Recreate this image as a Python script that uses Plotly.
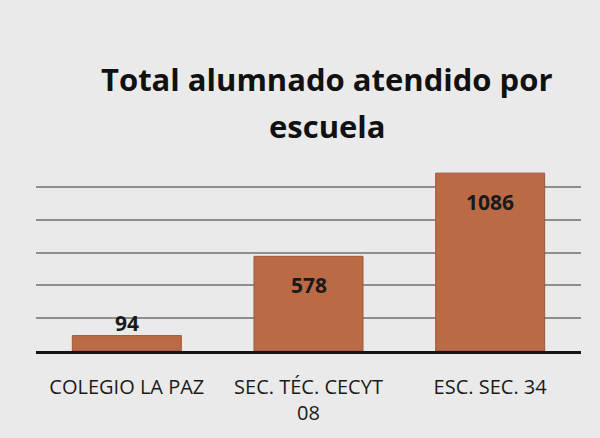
import plotly.graph_objects as go

categories = ["COLEGIO LA PAZ", "SEC. TÉC. CECYT 08", "ESC. SEC. 34"]
tick_labels = ["COLEGIO LA PAZ", "SEC. TÉC. CECYT<br>08", "ESC. SEC. 34"]
values = [94, 578, 1086]
title_lines = ["Total alumnado atendido por", "escuela"]
grid_values = [200, 400, 600, 800, 1000]

BG = "#EAEAEA"
BAR = "#BA6A45"

# plot area in pixels
PL, PR, PT, PB = 36, 581, 152, 351


def px_to_paper_x(px):
    return (px - PL) / (PR - PL)


def px_to_paper_y(py):
    return (PB - py) / (PB - PT)


fig = go.Figure()
fig.add_trace(go.Bar(
    x=categories, y=values,
    marker=dict(color=BAR, line=dict(color="#A0573A", width=1)),
    hoverinfo="x+y",
))

annotations = []
for c, v in zip(categories, values):
    inside = v > 300
    annotations.append(dict(
        x=c, y=v, xref="x", yref="y", text=str(v), showarrow=False,
        yanchor="middle", yshift=-29 if inside else 13,
        font=dict(family="Open Sans", size=21, color="#1a1a1a", weight="bold"),
    ))

for line, cy in zip(title_lines, [79, 126]):
    annotations.append(dict(
        x=px_to_paper_x(327), y=px_to_paper_y(cy), xref="paper", yref="paper",
        xanchor="center", yanchor="middle",
        text=line, showarrow=False,
        font=dict(family="Open Sans", size=31, color="#111111", weight="bold"),
    ))

fig.update_layout(
    width=600, height=438,
    margin=dict(l=PL, r=600 - PR, t=PT, b=438 - PB),
    paper_bgcolor=BG, plot_bgcolor=BG,
    bargap=0.4,
    showlegend=False,
    annotations=annotations,
    xaxis=dict(
        tickmode="array", tickvals=categories, ticktext=tick_labels,
        showline=True, linecolor="#151515", linewidth=3,
        showgrid=False, ticks="", ticklabelstandoff=16,
        tickfont=dict(family="Open Sans", size=20, color="#1a1a1a"),
        fixedrange=True,
    ),
    yaxis=dict(
        range=[0, 1215], tickmode="array", tickvals=grid_values,
        showticklabels=False, showgrid=True, gridcolor="#8E8E8E", gridwidth=1.6,
        zeroline=False, showline=False, fixedrange=True,
    ),
)

fig.write_html(
    "out.html",
    config={"displayModeBar": False},
    post_script="document.body.style.margin='0';document.body.style.background='%s';" % BG,
)
